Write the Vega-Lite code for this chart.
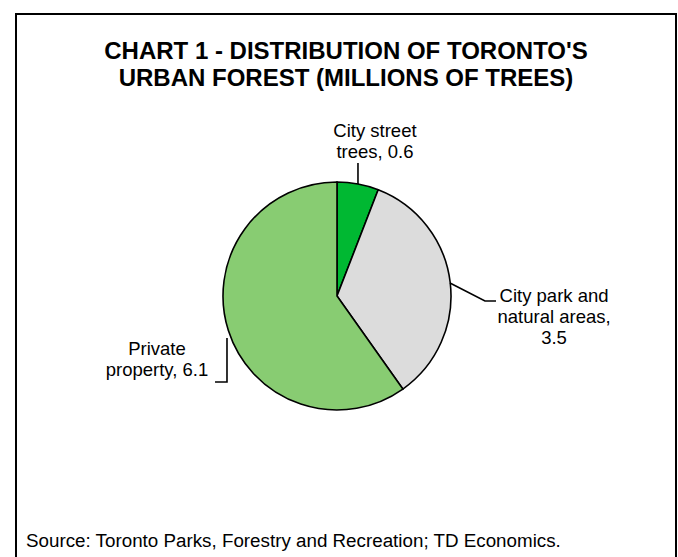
{
  "$schema": "https://vega.github.io/schema/vega-lite/v6.json",
  "width": 660,
  "height": 564,
  "autosize": "none",
  "padding": {"left": 16, "top": 14, "right": 2, "bottom": 0},
  "background": "white",
  "config": {
    "view": {"stroke": "black", "strokeWidth": 2},
    "font": "Liberation Sans"
  },
  "title": {
    "text": ["CHART 1 - DISTRIBUTION OF TORONTO'S", "URBAN FOREST (MILLIONS OF TREES)"],
    "font": "Liberation Sans",
    "fontSize": 24,
    "fontWeight": "bold",
    "color": "black",
    "anchor": "middle",
    "frame": "group",
    "baseline": "top",
    "offset": -23,
    "dy": 54,
    "lineHeight": 27
  },
  "datasets": {
    "slices": [
      {"category": "City street trees", "value": 0.6, "idx": 1},
      {"category": "City park and natural areas", "value": 3.5, "idx": 2},
      {"category": "Private property", "value": 6.1, "idx": 3}
    ],
    "labels": [
      {"label": "City street\ntrees, 0.6", "x": 0.333, "y": 1.395},
      {"label": "City park and\nnatural areas,\n3.5", "x": 1.904, "y": -0.053},
      {"label": "Private\nproperty, 6.1", "x": -1.579, "y": -0.5175}
    ],
    "leaders": [
      {"id": "street", "ord": 1, "x": 0.184, "y": 1.167},
      {"id": "street", "ord": 2, "x": 0.184, "y": 0.982},
      {"id": "park", "ord": 1, "x": 0.991, "y": 0.114},
      {"id": "park", "ord": 2, "x": 1.298, "y": -0.044},
      {"id": "park", "ord": 3, "x": 1.395, "y": -0.044},
      {"id": "private", "ord": 1, "x": -1.07, "y": -0.754},
      {"id": "private", "ord": 2, "x": -0.965, "y": -0.754},
      {"id": "private", "ord": 3, "x": -0.965, "y": -0.368}
    ],
    "source": [
      {"text": "Source: Toronto Parks, Forestry and Recreation; TD Economics.", "x": -2.728, "y": -2.2}
    ]
  },
  "layer": [
    {
      "data": {"name": "slices"},
      "mark": {"type": "arc", "outerRadius": 114, "stroke": "black", "strokeWidth": 1.6},
      "encoding": {
        "theta": {"field": "value", "type": "quantitative", "stack": true},
        "order": {"field": "idx", "type": "quantitative"},
        "x": {"datum": 0, "type": "quantitative", "scale": {"domain": [-2.8158, 2.9737], "nice": false, "zero": false}, "axis": null},
        "y": {"datum": 0, "type": "quantitative", "scale": {"domain": [-2.4737, 2.4737], "nice": false, "zero": false}, "axis": null},
        "color": {
          "field": "category",
          "type": "nominal",
          "scale": {
            "domain": ["City street trees", "City park and natural areas", "Private property"],
            "range": ["#00b832", "#dcdcdc", "#88cc72"]
          },
          "legend": null
        }
      }
    },
    {
      "data": {"name": "leaders"},
      "mark": {"type": "line", "color": "black", "strokeWidth": 1.6},
      "encoding": {
        "x": {"field": "x", "type": "quantitative", "axis": null},
        "y": {"field": "y", "type": "quantitative", "axis": null},
        "detail": {"field": "id"},
        "order": {"field": "ord", "type": "quantitative"}
      }
    },
    {
      "data": {"name": "labels"},
      "mark": {"type": "text", "font": "Liberation Sans", "fontSize": 18.5, "lineBreak": "\n", "lineHeight": 21, "align": "center", "baseline": "alphabetic", "color": "black"},
      "encoding": {
        "x": {"field": "x", "type": "quantitative", "axis": null},
        "y": {"field": "y", "type": "quantitative", "axis": null},
        "text": {"field": "label"}
      }
    },
    {
      "data": {"name": "source"},
      "mark": {"type": "text", "font": "Liberation Sans", "fontSize": 18.8, "align": "left", "baseline": "alphabetic", "color": "black"},
      "encoding": {
        "x": {"field": "x", "type": "quantitative", "axis": null},
        "y": {"field": "y", "type": "quantitative", "axis": null},
        "text": {"field": "text"}
      }
    }
  ]
}
